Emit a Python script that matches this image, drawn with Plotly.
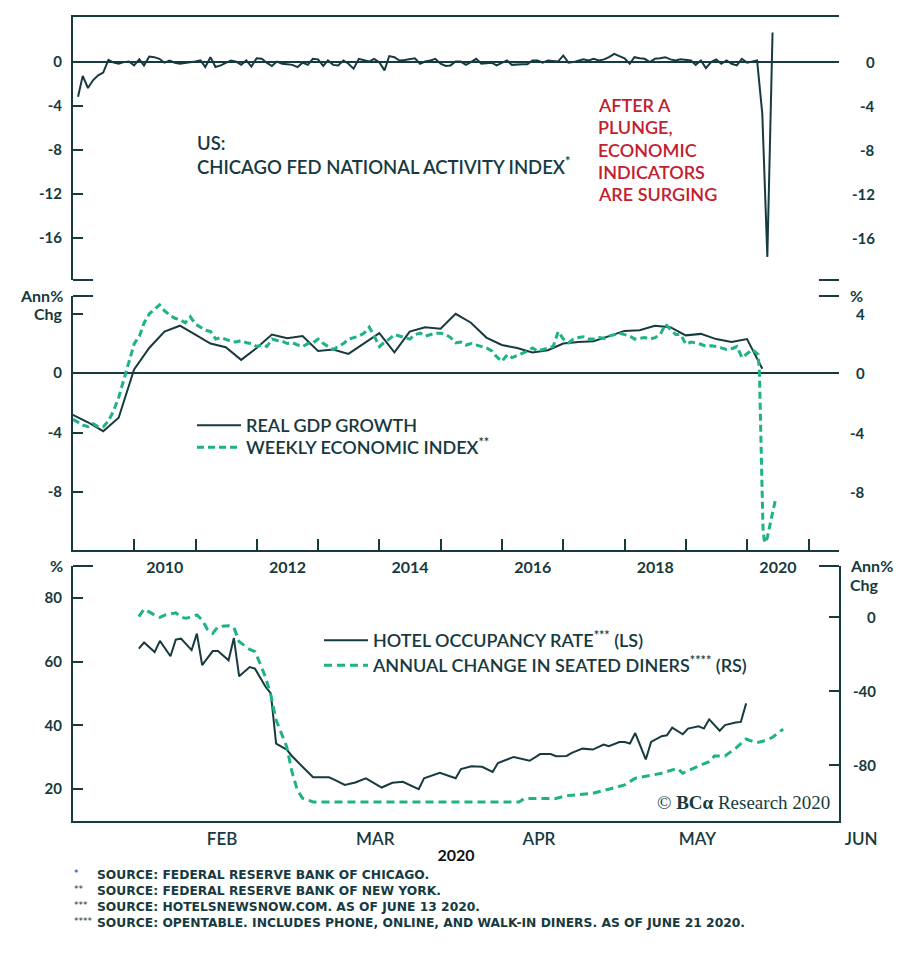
import pandas as pd
import plotly.graph_objects as go

# ---------------- data ----------------
# Chicago Fed National Activity Index, monthly (month-end), Jan 2009 .. May 2020
cfnai_start = "2009-01-01"
cfnai = [-3.15, -1.25, -2.35, -1.65, -1.2, -0.95, 0.2, -0.05, -0.15, 0.0, 0.05, -0.3,
         0.25, -0.3, 0.5, 0.45, 0.3, -0.05, 0.15, -0.05, -0.15, -0.1, -0.05, 0.05,
         0.15, -0.45, 0.45, -0.45, -0.3, -0.1, 0.15, 0.05, -0.25, 0.15, -0.4, 0.35,
         0.3, -0.05, -0.35, 0.05, -0.15, -0.2, -0.25, -0.45, -0.05, -0.25, 0.3, 0.25,
         -0.35, 0.15, -0.25, -0.3, 0.15, -0.15, -0.6, 0.3, 0.15, 0.05, 0.3, 0.0,
         -0.75, 0.55, 0.45, 0.15, 0.2, 0.25, 0.35, -0.15, 0.05, 0.15, 0.3, -0.15,
         -0.35, -0.3, 0.05, 0.05, -0.25, 0.0, 0.3, -0.15, -0.1, -0.05, -0.3, -0.1,
         0.15, -0.25, -0.2, -0.2, -0.2, 0.15, 0.15, -0.05, 0.15, 0.1, 0.05, 0.6,
         -0.05, 0.0, 0.1, 0.25, 0.15, 0.3, 0.15, 0.25, 0.45, 0.75, 0.55, 0.35,
         -0.15, 0.45, 0.35, 0.3, 0.0, 0.3, 0.35, 0.45, 0.25, 0.15, 0.25, 0.2,
         0.15, -0.25, 0.15, -0.55, 0.0, 0.25, -0.15, 0.15, -0.15, -0.3, 0.3, -0.05,
         0.05, 0.15, -4.7, -17.7, 2.7]

# Real GDP growth (annual % chg), quarterly (quarter-end), Q4 2008 .. Q1 2020
gdp_start = "2008-10-01"
gdp = [-2.8, -3.3, -3.9, -3.0, 0.25,
       1.7, 2.8, 3.2, 2.6,
       2.0, 1.75, 0.9, 1.7,
       2.6, 2.35, 2.5, 1.5,
       1.6, 1.3, 2.0, 2.7,
       1.4, 2.8, 3.1, 3.0,
       4.0, 3.4, 2.4, 1.9,
       1.7, 1.4, 1.55, 2.0,
       2.1, 2.15, 2.5, 2.85,
       2.9, 3.2, 3.1, 2.55,
       2.65, 2.3, 2.1, 2.3,
       0.3]

# Weekly Economic Index (sampled monthly up to Feb 2020, then weekly)
wei_monthly_start = "2009-01-01"
wei_monthly = [-3.1, -3.3, -3.5, -3.6, -3.4, -3.6, -3.6, -3.2, -2.5, -1.6, -0.4, 0.9,
               2.0, 2.5, 3.4, 4.0, 4.3, 4.6, 4.2, 3.9, 3.7, 3.6, 3.4, 3.8,
               3.3, 3.1, 2.9, 2.8, 2.3, 2.4, 2.3, 2.15, 2.1, 2.2, 2.05, 2.0,
               1.8, 1.9, 1.8, 2.3, 2.2, 2.15, 2.0, 2.05, 1.9, 1.8, 2.0, 2.05,
               2.3, 2.0, 1.8, 1.6, 1.8, 2.0, 2.3, 2.4, 2.5, 2.7, 3.1, 2.5,
               1.8, 2.1, 2.3, 2.6, 2.5, 2.4, 2.3, 2.6, 2.7, 2.5, 2.6, 2.7,
               2.7, 2.6, 2.4, 2.05, 2.1, 1.9, 2.0, 1.9, 1.8, 1.7, 1.5, 1.1,
               0.8, 1.25, 1.05, 1.2, 1.35, 1.5, 1.7, 1.5, 1.6, 1.7, 1.8, 2.8,
               2.3, 2.05, 2.3, 2.4, 2.45, 2.3, 2.3, 2.4, 2.35, 2.5, 2.6, 2.7,
               2.6, 2.5, 2.3, 2.35, 2.4, 2.3, 2.4, 2.6, 3.3, 2.95, 2.6, 2.6,
               1.95, 2.1, 2.05, 1.95, 1.8, 1.85, 1.8, 1.7, 1.6, 1.65, 1.8, 1.05,
               1.35, 1.6]
wei_2020_dates = ["2020-03-07", "2020-03-14", "2020-03-21", "2020-03-28", "2020-04-04",
                  "2020-04-11", "2020-04-18", "2020-04-25", "2020-05-02", "2020-05-09",
                  "2020-05-16", "2020-05-23", "2020-05-30", "2020-06-06", "2020-06-13",
                  "2020-06-20"]
wei_2020 = [1.25, 0.0, -3.5, -7.5, -10.4, -11.2, -11.4, -11.3, -11.0, -10.6,
            -10.2, -9.8, -9.4, -9.0, -8.7, -8.4]

# Hotel occupancy rate (%)
hotel_dates = ["2020-01-31", "2020-02-01", "2020-02-03", "2020-02-04", "2020-02-06",
               "2020-02-07", "2020-02-08", "2020-02-10", "2020-02-11", "2020-02-12",
               "2020-02-14", "2020-02-15", "2020-02-17", "2020-02-18", "2020-02-19",
               "2020-02-21", "2020-02-22", "2020-02-24", "2020-02-25", "2020-02-26",
               "2020-02-28", "2020-02-29", "2020-03-02", "2020-03-04", "2020-03-07",
               "2020-03-08", "2020-03-10", "2020-03-12", "2020-03-14", "2020-03-17",
               "2020-03-19", "2020-03-21", "2020-03-24", "2020-03-25", "2020-03-28",
               "2020-03-29", "2020-03-31", "2020-04-01", "2020-04-03", "2020-04-05",
               "2020-04-07", "2020-04-08", "2020-04-10", "2020-04-11", "2020-04-14",
               "2020-04-16", "2020-04-18", "2020-04-19", "2020-04-21", "2020-04-22",
               "2020-04-24", "2020-04-26", "2020-04-28", "2020-04-29", "2020-05-01",
               "2020-05-02", "2020-05-03", "2020-05-04", "2020-05-06", "2020-05-07",
               "2020-05-09", "2020-05-10", "2020-05-11", "2020-05-13", "2020-05-14",
               "2020-05-16", "2020-05-17", "2020-05-18", "2020-05-20", "2020-05-21",
               "2020-05-23", "2020-05-24", "2020-05-25"]
hotel = [64.1, 66.0, 63.0, 66.5, 61.7, 66.9, 67.2, 63.6, 68.8, 58.9,
         63.3, 63.3, 60.4, 67.4, 55.4, 58.3, 57.8, 52.1, 50.0, 34.3,
         32.4, 30.4, 27.0, 23.7, 23.7, 23.0, 21.3, 22.1, 23.4, 20.5,
         22.0, 22.3, 20.0, 23.4, 25.1, 24.6, 23.4, 26.3, 27.2, 27.0,
         25.4, 28.2, 29.6, 30.1, 28.9, 31.0, 31.0, 30.3, 30.4, 31.4,
         32.7, 32.4, 34.0, 33.5, 34.8, 34.8, 34.3, 37.6, 29.3, 34.8,
         36.6, 36.9, 39.3, 37.2, 39.0, 39.7, 39.0, 41.9, 38.3, 40.1,
         40.9, 41.1, 46.9]

# Annual change in seated diners (%)
diners_dates = ["2020-01-31", "2020-02-01", "2020-02-03", "2020-02-04", "2020-02-05",
                "2020-02-07", "2020-02-08", "2020-02-09", "2020-02-11", "2020-02-12",
                "2020-02-13", "2020-02-14", "2020-02-15", "2020-02-17", "2020-02-18",
                "2020-02-19", "2020-02-21", "2020-02-22", "2020-02-23", "2020-02-24",
                "2020-02-25", "2020-02-26", "2020-02-28", "2020-02-29", "2020-03-01",
                "2020-03-02", "2020-03-04", "2020-04-12", "2020-04-13", "2020-04-19",
                "2020-04-21", "2020-04-26", "2020-04-29", "2020-05-02", "2020-05-04",
                "2020-05-09", "2020-05-12", "2020-05-13", "2020-05-15", "2020-05-18",
                "2020-05-19", "2020-05-21", "2020-05-23", "2020-05-25", "2020-05-27",
                "2020-05-29", "2020-05-30", "2020-06-01"]
diners = [0.2, 4.3, 1.1, -0.2, 1.1, 2.3, -0.2, -0.7, 1.1, -1.6,
          -6.7, -8.8, -5.2, -4.7, -5.6, -13.3, -17.5, -18.7, -25.4, -32.6,
          -42.2, -55.7, -70.1, -83.6, -93.5, -98.0, -100.0, -100.0, -98.1, -98.1,
          -96.6, -95.3, -93.1, -90.8, -87.2, -84.5, -81.8, -84.5, -81.8, -78.2,
          -75.1, -75.1, -71.0, -66.0, -68.0, -66.5, -65.0, -60.6]

cfnai_ticks = [0, -4, -8, -12, -16]
gdp_ticks = [4, 0, -4, -8]
gdp_left_labels = ["", "0", "-4", "-8"]          # left side shows "Ann% Chg" instead of 4
hotel_ticks = [80, 60, 40, 20]
diners_ticks = [0, -40, -80]
year_labels = ["2010", "2012", "2014", "2016", "2018", "2020"]
month_labels = ["FEB", "MAR", "APR", "MAY", "JUN"]
month_starts = ["2020-02-01", "2020-03-01", "2020-04-01", "2020-05-01", "2020-06-01"]
cfnai_title = ["US:", "CHICAGO FED NATIONAL ACTIVITY INDEX<sup>*</sup>"]
callout = ["AFTER A", "PLUNGE,", "ECONOMIC", "INDICATORS", "ARE SURGING"]
footnote_marks = ["*", "**", "***", "****"]
footnotes = ["SOURCE: FEDERAL RESERVE BANK OF CHICAGO.",
             "SOURCE: FEDERAL RESERVE BANK OF NEW YORK.",
             "SOURCE: HOTELSNEWSNOW.COM. AS OF JUNE 13 2020.",
             "SOURCE: OPENTABLE. INCLUDES PHONE, ONLINE, AND WALK-IN DINERS. AS OF JUNE 21 2020."]

# ---------------- geometry / style ----------------
PAGE_OFF = 8                      # default <body> margin of the html page
W, H = 912 - PAGE_OFF, 954 - 2 * PAGE_OFF
PLOT_L, PLOT_R, PLOT_T, PLOT_B = 73, 900, 17, 821   # plot area in page pixels
ML, MT = PLOT_L - PAGE_OFF, PLOT_T - PAGE_OFF
MR = W - (PLOT_R - PAGE_OFF)
MB = H - (PLOT_B - PAGE_OFF)
PW, PH = PLOT_R - PLOT_L, PLOT_B - PLOT_T


def px_x(p):
    return (p - PLOT_L) / PW


def px_y(p):
    return (PLOT_B - p) / PH


XD = px_x(839)
DARK = "#173a40"
GREEN = "#1db386"
RED = "#c3202f"
FONT = "Lato"
TICKFONT = dict(family=FONT, size=15, color=DARK, weight=700)

long_range = ["2009-01-01", "2021-07-01"]
short_range = ["2020-01-18 13:00", "2020-06-11 14:00"]

cfnai_x = pd.date_range(cfnai_start, periods=len(cfnai), freq="MS") + pd.offsets.MonthEnd(0)
gdp_x = pd.date_range(gdp_start, periods=len(gdp), freq="QS") + pd.offsets.QuarterEnd(0)
wei_x = list(pd.date_range(wei_monthly_start, periods=len(wei_monthly), freq="MS")) + \
    list(pd.to_datetime(wei_2020_dates))
wei_y = wei_monthly + wei_2020

fig = go.Figure()
fig.add_trace(go.Scatter(x=cfnai_x, y=cfnai, mode="lines", line=dict(color=DARK, width=2),
                         xaxis="x", yaxis="y", showlegend=False, hoverinfo="skip"))
fig.add_trace(go.Scatter(x=gdp_x, y=gdp, mode="lines", name="REAL GDP GROWTH",
                         line=dict(color=DARK, width=2), xaxis="x2", yaxis="y4",
                         legend="legend"))
fig.add_trace(go.Scatter(x=wei_x, y=wei_y, mode="lines",
                         name="WEEKLY ECONOMIC INDEX<sup>**</sup>",
                         line=dict(color=GREEN, width=3, dash="7px,4px"),
                         xaxis="x2", yaxis="y4", legend="legend3"))
fig.add_trace(go.Scatter(x=hotel_dates, y=hotel, mode="lines",
                         name="HOTEL OCCUPANCY RATE<sup>***</sup> (LS)",
                         line=dict(color=DARK, width=2), xaxis="x3", yaxis="y7",
                         legend="legend2"))
fig.add_trace(go.Scatter(x=diners_dates, y=diners, mode="lines",
                         name="ANNUAL CHANGE IN SEATED DINERS<sup>****</sup> (RS)",
                         line=dict(color=GREEN, width=3, dash="8px,5px"),
                         xaxis="x3", yaxis="y8", legend="legend4"))

base_y = dict(showgrid=False, zeroline=False, ticks="inside", ticklen=10, tickwidth=2,
              tickcolor=DARK, showline=True, linecolor=DARK, linewidth=2,
              tickfont=TICKFONT, fixedrange=True)

D1 = [px_y(280), px_y(17)]
D2 = [px_y(550), px_y(296)]
D3 = [0, px_y(566)]
R1 = [-19.8, 4.1]
R2 = [-11.9, 5.2]
R3 = [10, 90]
R4 = [-110.3, 27.6]

layout_axes = dict(
    xaxis=dict(domain=[0, XD], range=long_range, type="date", anchor="y", side="top",
               showline=True, linecolor=DARK, linewidth=2, ticks="", showticklabels=False,
               showgrid=False, zeroline=False),
    yaxis=dict(base_y, domain=D1, range=R1, tickvals=cfnai_ticks,
               ticktext=[str(v) for v in cfnai_ticks], anchor="x", side="left",
               zeroline=True, zerolinecolor=DARK, zerolinewidth=2, ticklabelstandoff=6),
    yaxis2=dict(base_y, range=R1, tickvals=cfnai_ticks, overlaying="y", anchor="x",
                side="right", showticklabels=False),
    xaxis2=dict(domain=[0, XD], range=long_range, type="date", anchor="y4",
                showline=True, linecolor=DARK, linewidth=2, ticks="",
                tickvals=[f"{y}-07-02" for y in year_labels], ticktext=year_labels,
                tickfont=dict(family=FONT, size=16, color=DARK, weight=700),
                ticklabelstandoff=2, showgrid=False, zeroline=False,
                minor=dict(tickvals=[f"{y}-01-01" for y in range(2010, 2022)],
                           ticks="inside", ticklen=11, tickwidth=2, tickcolor=DARK,
                           showgrid=False)),
    yaxis4=dict(base_y, domain=D2, range=R2, tickvals=gdp_ticks, ticktext=gdp_left_labels,
                anchor="x2", side="left",
                zeroline=True, zerolinecolor=DARK, zerolinewidth=2, ticklabelstandoff=6),
    yaxis5=dict(base_y, range=R2, tickvals=gdp_ticks, overlaying="y4", anchor="x2",
                side="right", showticklabels=False),
    xaxis3=dict(domain=[0, XD], range=short_range, type="date", anchor="y7",
                showline=True, linecolor=DARK, linewidth=2, ticks="",
                tickvals=month_starts, ticktext=month_labels, ticklabelshift=78,
                tickfont=dict(family=FONT, size=17, color=DARK, weight=600),
                ticklabelstandoff=2, showgrid=False, zeroline=False,
                title=dict(text="<b>2020</b>", standoff=1,
                           font=dict(family=FONT, size=16, color="#111111"))),
    yaxis7=dict(base_y, domain=D3, range=R3, tickvals=hotel_ticks,
                ticktext=[str(v) for v in hotel_ticks], anchor="x3",
                side="left", ticklabelstandoff=6),
    yaxis8=dict(base_y, range=R4, tickvals=diners_ticks, overlaying="y7", anchor="x3",
                side="right", showticklabels=False),
)

legend_common = dict(bgcolor="rgba(0,0,0,0)", borderwidth=0, xanchor="left",
                     yanchor="top", itemwidth=44, tracegroupgap=0,
                     itemclick=False, itemdoubleclick=False,
                     font=dict(family=FONT, size=18, color=DARK, weight=600))

# frame stubs at open panel edges
shapes = []
for ypx in (280, 296, 566):
    for x0, x1 in ((73, 93), (819, 839)):
        shapes.append(dict(type="line", xref="paper", yref="paper",
                           x0=px_x(x0), x1=px_x(x1), y0=px_y(ypx), y1=px_y(ypx),
                           line=dict(color=DARK, width=2)))


def ann(text, xpx, ypx, xanchor="left", yanchor="middle", size=18, color=DARK,
        weight=600, family=FONT, align="left", yref="paper"):
    return dict(text=text, x=px_x(xpx), y=px_y(ypx) if yref == "paper" else ypx,
                xref="paper", yref=yref, borderpad=0,
                xanchor=xanchor, yanchor=yanchor, align=align, showarrow=False,
                font=dict(family=family, size=size, color=color, weight=weight))


annotations = []
for i, line in enumerate(cfnai_title):
    annotations.append(ann(line, 196, 143 + 23 * i, size=18.5))
for i, line in enumerate(callout):
    annotations.append(ann(line, 597, 105 + 22.25 * i, color=RED))
annotations += [
    ann("Ann%", 64, 296, xanchor="right", size=16, weight=700),
    ann("Chg", 64, 313, xanchor="right", size=16, weight=700),
    ann("%", 849, 296, size=16, weight=700),
    ann("%", 64, 566, xanchor="right", size=16, weight=700),
    ann("Ann%", 849, 566, size=16, weight=700),
    ann("Chg", 849, 584, size=16, weight=700),
    ann("© <b>BCα</b> Research 2020", 656, 802, size=19, family="Liberation Serif",
        weight=400),
]
# right-hand scale labels (right aligned, placed through the value axes)
for v in cfnai_ticks:
    annotations.append(ann(str(v), 876, v, xanchor="right", size=15, weight=700, yref="y"))
for v in gdp_ticks:
    annotations.append(ann(str(v), 866, v, xanchor="right", size=15, weight=700, yref="y4"))
for v in diners_ticks:
    annotations.append(ann(str(v), 877, v, xanchor="right", size=15, weight=700, yref="y8"))
# footnotes: small markers per line, one text block
for i, mark in enumerate(footnote_marks):
    annotations.append(ann(mark, 73, 873 + 16 * i, size=9, weight=400,
                           family="DejaVu Sans"))
annotations.append(ann("<br>".join(footnotes), 96, 867, yanchor="top", size=12.3,
                       weight=700, family="DejaVu Sans"))

fig.update_layout(
    width=W, height=H, autosize=False,
    margin=dict(l=ML, r=MR, t=MT, b=MB, pad=0, autoexpand=False),
    paper_bgcolor="white", plot_bgcolor="white",
    font=dict(family=FONT, color=DARK),
    showlegend=True,
    legend=dict(legend_common, x=px_x(192), y=px_y(407)),
    legend3=dict(legend_common, x=px_x(192), y=px_y(429)),
    legend2=dict(legend_common, x=px_x(319), y=px_y(622)),
    legend4=dict(legend_common, x=px_x(319), y=px_y(647)),
    shapes=shapes,
    annotations=annotations,
    **layout_axes,
)

fig.write_html("out.html", config={"displayModeBar": False, "staticPlot": True})
